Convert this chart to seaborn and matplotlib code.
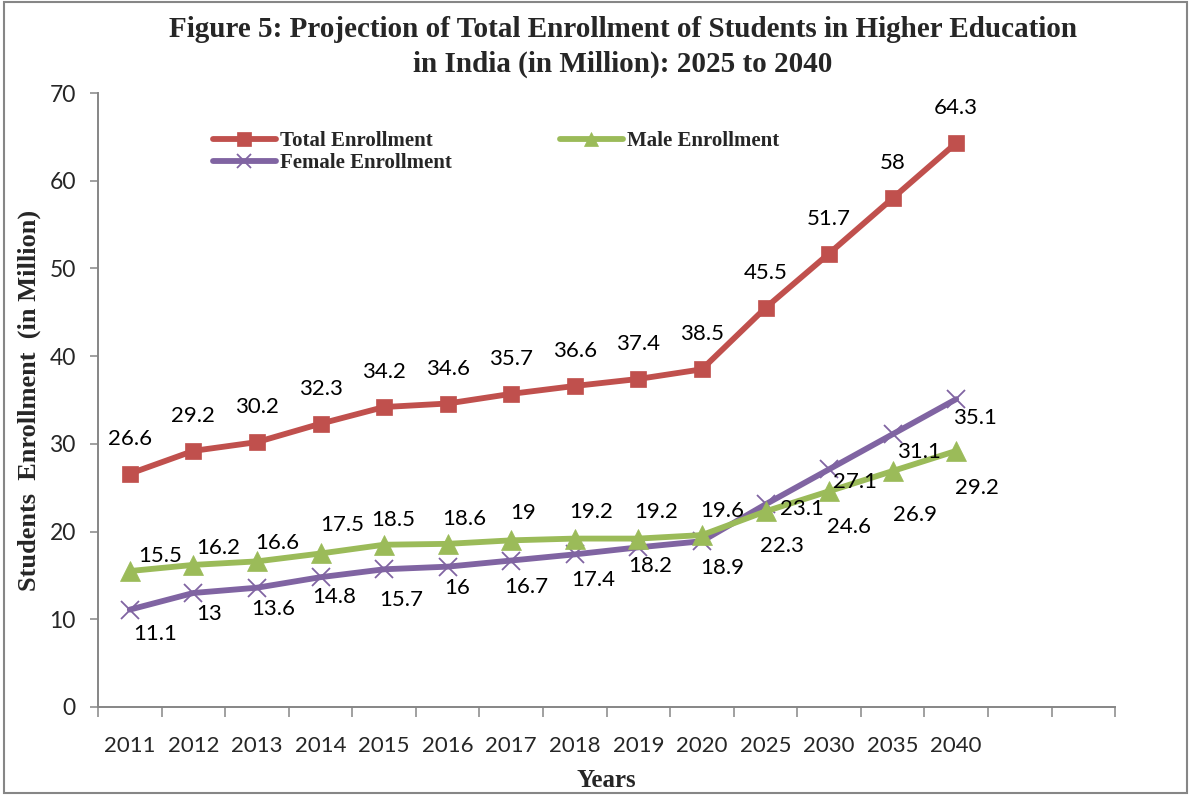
import matplotlib
matplotlib.use("Agg")
import matplotlib.pyplot as plt
import seaborn as sns
import pandas as pd
from matplotlib.patches import Rectangle

# ---- data -------------------------------------------------------------
years = ["2011", "2012", "2013", "2014", "2015", "2016", "2017",
         "2018", "2019", "2020", "2025", "2030", "2035", "2040"]
total_enrollment = [26.6, 29.2, 30.2, 32.3, 34.2, 34.6, 35.7,
                    36.6, 37.4, 38.5, 45.5, 51.7, 58, 64.3]
male_enrollment = [15.5, 16.2, 16.6, 17.5, 18.5, 18.6, 19,
                   19.2, 19.2, 19.6, 22.3, 24.6, 26.9, 29.2]
female_enrollment = [11.1, 13, 13.6, 14.8, 15.7, 16, 16.7,
                     17.4, 18.2, 18.9, 23.1, 27.1, 31.1, 35.1]

# ---- label placement (offsets in pixels from each point) ---------------
total_offsets = [(0, 35)] * 14
male_offsets = [(30, 15), (25, 17), (20, 18), (22, 28), (9, 25), (17, 25),
                (12, 27), (16, 27), (18, 27), (20, 24),
                (16, -35), (20, -36), (22, -44), (21, -37)]
female_offsets = [(25, -24), (16, -21), (16, -21), (14, -20), (17, -31),
                  (9, -21), (15, -26), (18, -26), (12, -19), (20, -27),
                  (36, -5), (26, -13), (26, -18), (19, -19)]

RED = "#C0504D"
GREEN = "#9BBB59"
PURPLE = "#8064A2"
AXIS_GREY = "#868686"

sns.set_theme(style="white")
plt.rcParams["font.family"] = ["Lato", "DejaVu Sans"]

fig = plt.figure(figsize=(11.91, 7.95), dpi=100)
ax = fig.add_axes([0.0823, 0.1107, 0.8540, 0.7723])

pos = list(range(len(years)))
series = [
    ("Total Enrollment", total_enrollment, RED, "s", 12, 0.5, total_offsets),
    ("Female Enrollment", female_enrollment, PURPLE, "x", 13, 1.3, female_offsets),
    ("Male Enrollment", male_enrollment, GREEN, "^", 14, 0.5, male_offsets),
]

for name, values, color, marker, msize, mew, _ in series:
    df = pd.DataFrame({"pos": pos, "value": values})
    sns.lineplot(data=df, x="pos", y="value", ax=ax, color=color, lw=4.2,
                 marker=marker, markersize=msize, markeredgewidth=mew,
                 markeredgecolor=color, markerfacecolor=color, label=name)

for name, values, color, marker, msize, mew, offsets in series:
    for x, v, off in zip(pos, values, offsets):
        ax.annotate(f"{v:g}", (x, v), xytext=off, textcoords="offset pixels",
                    ha="center", va="center", fontsize=16, color="black")

# ---- axes ---------------------------------------------------------------
ax.set_xlim(-0.5, 15.5)
ax.set_ylim(0, 70)
ax.set_yticks(range(0, 71, 10))
ax.set_xticks(pos)
ax.set_xticklabels(years)
ax.set_xticks([i - 0.5 for i in range(17)], minor=True)
ax.tick_params(axis="x", which="major", length=0, pad=21, labelsize=16)
ax.tick_params(axis="x", which="minor", length=7, width=1.1,
               color=AXIS_GREY, direction="out", bottom=True)
ax.tick_params(axis="y", which="major", length=6, width=1.1,
               color=AXIS_GREY, direction="out", left=True, pad=10,
               labelsize=16.5)

for side in ["top", "right"]:
    ax.spines[side].set_visible(False)
for side in ["left", "bottom"]:
    ax.spines[side].set_color(AXIS_GREY)
    ax.spines[side].set_linewidth(1.4)

serif = ["Liberation Serif", "DejaVu Serif"]
ax.set_xlabel("Years", fontsize=18, fontweight="bold", family=serif,
              va="center")
ax.set_ylabel("Students  Enrollment  (in Million)", fontsize=19,
              fontweight="bold", family=serif, va="center")
ax.xaxis.set_label_coords(0.5, -0.12)
ax.yaxis.set_label_coords(-0.068, 0.5)

fig.suptitle("Figure 5: Projection of Total Enrollment of Students in Higher Education\n"
             "in India (in Million): 2025 to 2040",
             x=0.523, y=0.980, fontsize=21, fontweight="bold", family=serif,
             linespacing=1.35)

leg = ax.legend(loc="upper left", bbox_to_anchor=(0.103, 0.955), ncol=2,
                frameon=False, handlelength=3.0, handletextpad=0.2,
                columnspacing=5.2, labelspacing=0.1, borderpad=0,
                prop={"family": serif, "weight": "bold", "size": 15})
for h in leg.legend_handles:
    h.set_markersize(10)

# thin grey frame around the whole figure
fig.patches.append(Rectangle((0.003, 0.003), 0.994, 0.994,
                             transform=fig.transFigure, fill=False,
                             edgecolor=AXIS_GREY, linewidth=1.5))

fig.savefig("out.png", dpi=100)
